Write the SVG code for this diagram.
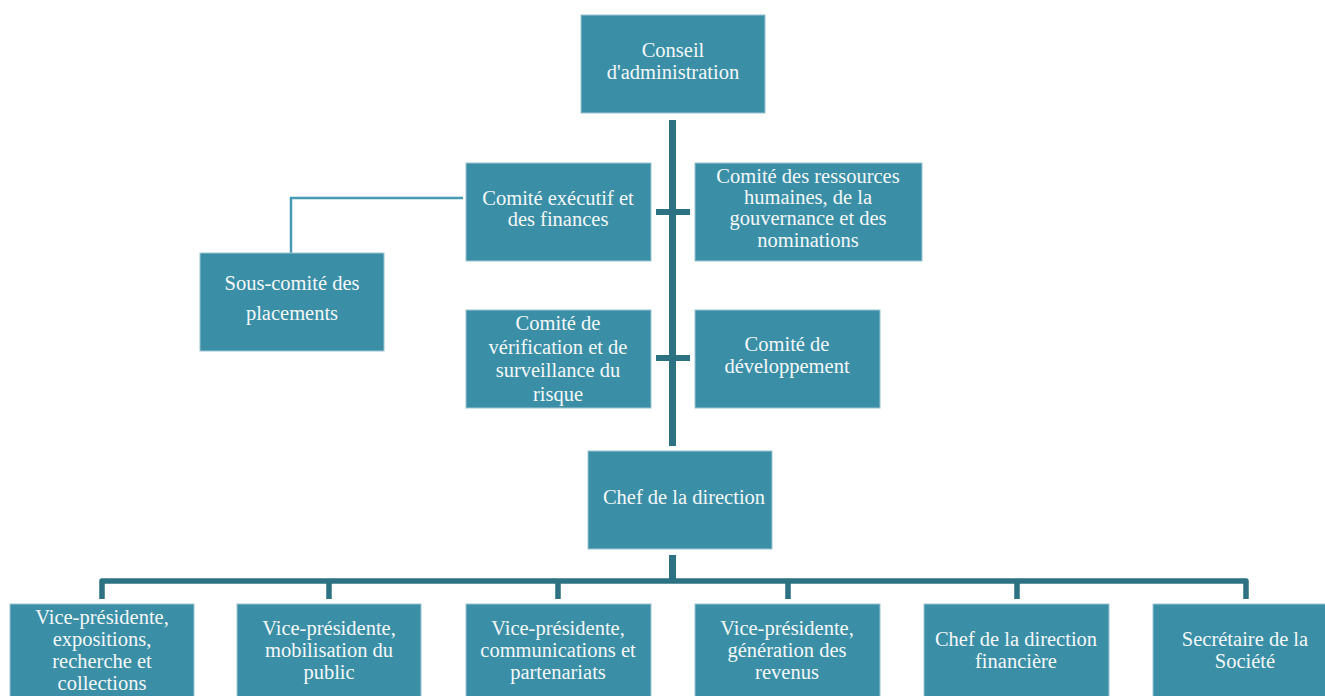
<svg xmlns="http://www.w3.org/2000/svg" width="1325" height="696" viewBox="0 0 1325 696">
<style>
.box{fill:#3a8fa7;stroke:#9cc6d2;stroke-width:1}
.t{font-family:"Liberation Serif","DejaVu Serif",serif;font-size:20.5px;fill:#f4f7f8;text-anchor:middle}
.bar{fill:#2d7282}
.thin{fill:none;stroke:#4a9bb1;stroke-width:2.5}
.conn{fill:none;stroke:#2d7282;stroke-width:5.5;stroke-linejoin:round}
</style>
<rect width="1325" height="696" fill="#ffffff"/>
<g id="connectors">
<rect class="bar" x="669" y="120" width="7" height="326"/>
<rect class="bar" x="656" y="209" width="34" height="6"/>
<rect class="bar" x="656" y="355" width="34" height="6"/>
<path class="thin" d="M463 198 H291 V253"/>
<rect class="bar" x="669" y="555" width="7" height="25"/>
<path class="conn" d="M102 599 V581 H1246 V599"/>
<path class="conn" d="M329 581 V599 M558 581 V599 M788 581 V599 M1017 581 V599"/>
</g>
<g id="conseil"><rect class="box" x="581" y="15" width="184" height="98"/><text class="t" x="673" y="57">Conseil</text><text class="t" x="673" y="79">d'administration</text></g>
<g id="executif"><rect class="box" x="466" y="163" width="185" height="98"/><text class="t" x="558" y="205">Comité exécutif et</text><text class="t" x="558" y="226">des finances</text></g>
<g id="rh"><rect class="box" x="695" y="163" width="227" height="98"/><text class="t" x="808" y="183">Comité des ressources</text><text class="t" x="808" y="204">humaines, de la</text><text class="t" x="808" y="225">gouvernance et des</text><text class="t" x="808" y="247">nominations</text></g>
<g id="souscomite"><rect class="box" x="200" y="253" width="184" height="98"/><text class="t" x="292" y="290">Sous-comité des</text><text class="t" x="292" y="320">placements</text></g>
<g id="verification"><rect class="box" x="466" y="310" width="185" height="98"/><text class="t" x="558" y="330">Comité de</text><text class="t" x="558" y="354">vérification et de</text><text class="t" x="558" y="377">surveillance du</text><text class="t" x="558" y="401">risque</text></g>
<g id="developpement"><rect class="box" x="695" y="310" width="185" height="98"/><text class="t" x="787" y="351">Comité de</text><text class="t" x="787" y="373">développement</text></g>
<g id="chef"><rect class="box" x="588" y="451" width="184" height="98"/><text class="t" x="684" y="504">Chef de la direction</text></g>
<g id="vp1"><rect class="box" x="10" y="604" width="184" height="98"/><text class="t" x="102" y="624">Vice-présidente,</text><text class="t" x="102" y="646">expositions,</text><text class="t" x="102" y="668">recherche et</text><text class="t" x="102" y="690">collections</text></g>
<g id="vp2"><rect class="box" x="237" y="604" width="184" height="98"/><text class="t" x="329" y="635">Vice-présidente,</text><text class="t" x="329" y="657">mobilisation du</text><text class="t" x="329" y="679">public</text></g>
<g id="vp3"><rect class="box" x="466" y="604" width="185" height="98"/><text class="t" x="558" y="635">Vice-présidente,</text><text class="t" x="558" y="657">communications et</text><text class="t" x="558" y="679">partenariats</text></g>
<g id="vp4"><rect class="box" x="695" y="604" width="185" height="98"/><text class="t" x="787" y="635">Vice-présidente,</text><text class="t" x="787" y="657">génération des</text><text class="t" x="787" y="679">revenus</text></g>
<g id="cfo"><rect class="box" x="924" y="604" width="185" height="98"/><text class="t" x="1016" y="646">Chef de la direction</text><text class="t" x="1016" y="668">financière</text></g>
<g id="secretaire"><rect class="box" x="1153" y="604" width="184" height="98"/><text class="t" x="1245" y="646">Secrétaire de la</text><text class="t" x="1245" y="668">Société</text></g>
</svg>
